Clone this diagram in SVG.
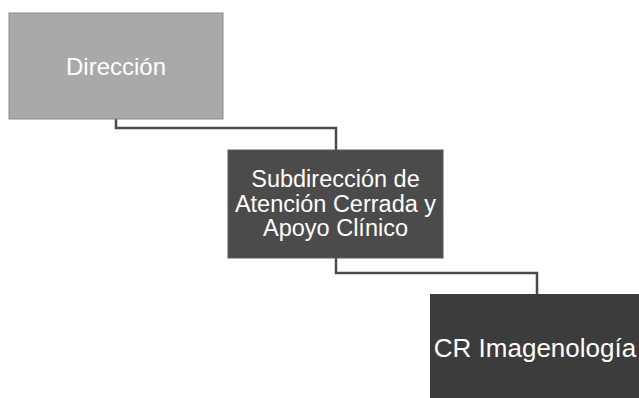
<svg xmlns="http://www.w3.org/2000/svg" width="639" height="398" viewBox="0 0 639 398">
<style>
.t{font-family:"Liberation Sans",Arial,sans-serif;fill:#ffffff;text-anchor:middle}
.c{fill:none;stroke:#4a4a4a;stroke-width:2.5}
</style>
<rect width="639" height="398" fill="#ffffff"/>
<g id="connectors">
<path class="c" d="M116,119 V128 H336 V150"/>
<path class="c" d="M336,258 V273 H537 V294"/>
</g>
<g id="n1">
<rect x="9" y="13" width="214" height="106" fill="#a9a9a9" stroke="#8a8a8a" stroke-width="1"/>
<text class="t" x="116" y="75" font-size="24">Dirección</text>
</g>
<g id="n2">
<rect x="228" y="150" width="215" height="108" fill="#4b4b4b" stroke="#5a5a5a" stroke-width="1"/>
<text class="t" x="335.5" y="187" font-size="23.5">Subdirección de</text>
<text class="t" x="335.5" y="211.5" font-size="23.5">Atención Cerrada y</text>
<text class="t" x="335.5" y="236" font-size="23.5">Apoyo Clínico</text>
</g>
<g id="n3">
<rect x="430" y="294" width="215" height="110" fill="#3c3c3c"/>
<text class="t" x="535" y="357" font-size="26">CR Imagenología</text>
</g>
</svg>
